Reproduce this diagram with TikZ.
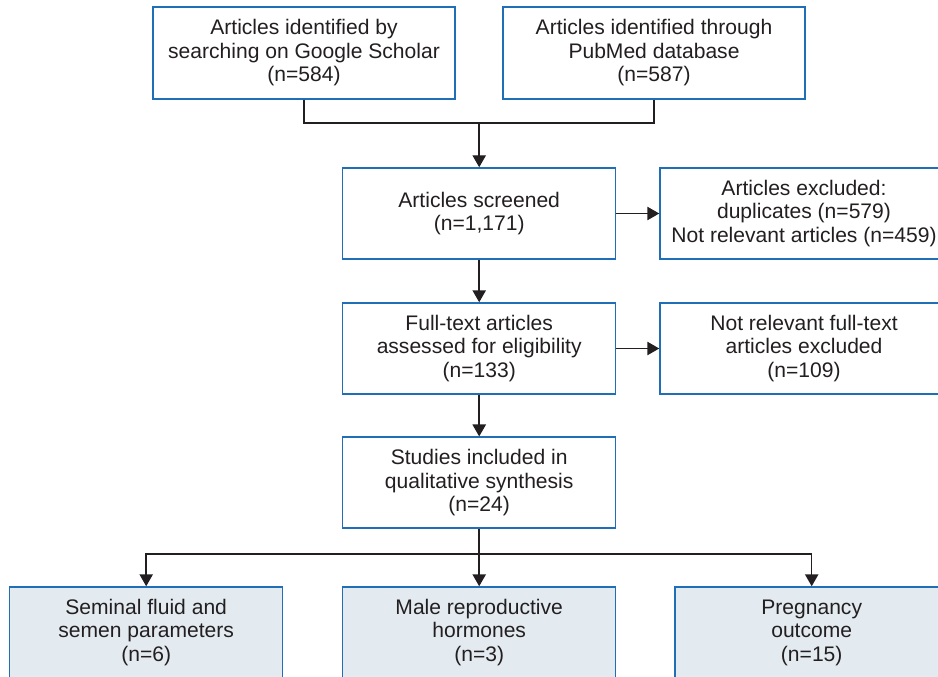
\documentclass[tikz,border=0pt]{standalone}
\usepackage{fontspec}
\setmainfont{Liberation Sans}
\usetikzlibrary{arrows.meta}
\definecolor{txt}{HTML}{231F20}
\definecolor{bord}{HTML}{1F6EB6}
\definecolor{fillb}{HTML}{E3EBF1}
\begin{document}
\begin{tikzpicture}[x=0.75pt,y=-0.75pt,
  box/.style={draw=bord, line width=1.1pt, fill=white, align=center, inner sep=0pt,
    text=txt, font=\fontsize{15.8}{17.6}\selectfont},
  topbox/.style={box, minimum width=226.5pt, minimum height=69pt},
  midbox/.style={box, minimum width=204.75pt, minimum height=68.25pt},
  sidebox/.style={box, minimum width=216pt, minimum height=68.25pt},
  botbox/.style={box, fill=fillb, minimum width=204.75pt, minimum height=68.25pt},
  conn/.style={draw=txt, line width=1.1pt},
  arr/.style={conn, -{Triangle[length=9pt,width=10pt]}}]
\useasboundingbox (0,0) rectangle (938,677);
\clip (0,0) rectangle (938,677);
\node[topbox] (gs) at (304,53) {Articles identified by\\searching on Google Scholar\\(n=584)};
\node[topbox] (pm) at (654,53) {Articles identified through\\PubMed database\\(n=587)};
\node[midbox] (scr) at (479.2,213.5) {Articles screened\\(n=1,171)};
\node[sidebox] (exc) at (804,213.5) {Articles excluded:\\duplicates (n=579)\\Not relevant articles (n=459)};
\node[midbox] (full) at (479.2,348.5) {Full-text articles\\assessed for eligibility\\(n=133)};
\node[sidebox] (nrel) at (804,348.5) {Not relevant full-text\\articles excluded\\(n=109)};
\node[midbox] (stud) at (479.2,482.7) {Studies included in\\qualitative synthesis\\(n=24)};
\node[botbox] (sem) at (146.2,632.5) {Seminal fluid and\\semen parameters\\(n=6)};
\node[botbox] (hor) at (479.2,632.5) {Male reproductive\\hormones\\(n=3)};
\node[botbox] (preg) at (811.7,632.5) {Pregnancy\\outcome\\(n=15)};
\coordinate (jt) at (479.2,123);
\coordinate (jb) at (479.2,554);
\draw[conn] (gs.south) |- (jt) -| (pm.south);
\draw[arr] (jt) -- (scr.north);
\draw[arr] (scr) -- (exc);
\draw[arr] (scr) -- (full);
\draw[arr] (full) -- (nrel);
\draw[arr] (full) -- (stud);
\draw[arr] (stud) -- (hor);
\draw[arr] (jb) -| (sem.north);
\draw[arr] (jb) -| (preg.north);
\end{tikzpicture}
\end{document}
